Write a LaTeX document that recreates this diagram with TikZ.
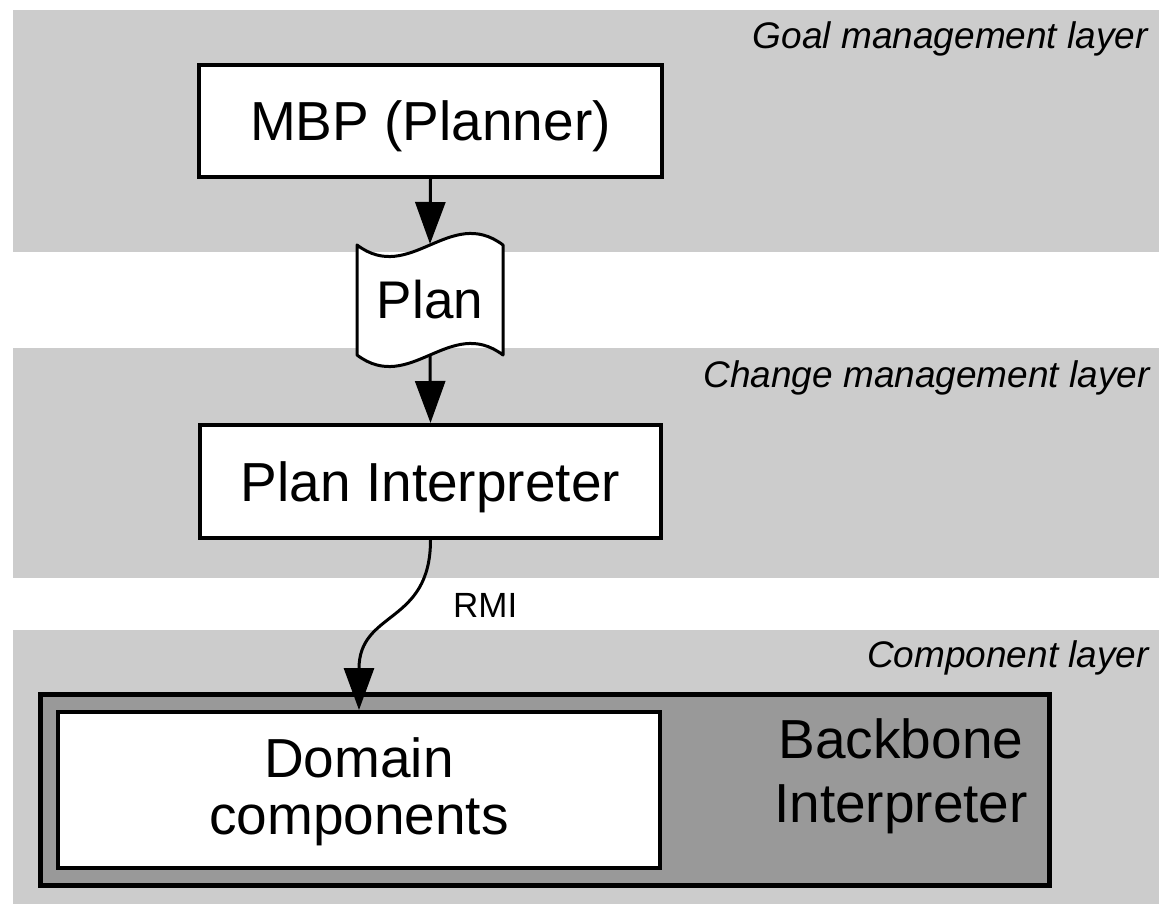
\documentclass[tikz,border=0pt]{standalone}
\usepackage{fontspec}
\setmainfont{Liberation Sans}
\usetikzlibrary{arrows.meta}
\definecolor{bandgray}{HTML}{CCCCCC}
\definecolor{bbgray}{HTML}{999999}
\begin{document}
\begin{tikzpicture}[x=1pt,y=-1pt,
  box/.style={draw=black,line width=4pt,fill=white,inner sep=0pt,
    font=\fontsize{55}{60}\selectfont,text height=39.4pt,text depth=0pt},
  txt/.style={inner sep=0pt,align=center},
  layerlabel/.style={font=\fontsize{37}{40}\selectfont\itshape,anchor=base east,inner sep=0pt},
  flow/.style={line width=3pt,-{Triangle[length=42pt,width=30pt]}}]
\useasboundingbox (0,0) rectangle (1159,904);

% layer bands
\fill[bandgray] (13,10) rectangle (1159,252);
\fill[bandgray] (13,348) rectangle (1159,578);
\fill[bandgray] (13,630) rectangle (1159,904);

\node[layerlabel] (goal) at (1148,49) {Goal management layer};
\node[layerlabel] (change) at (1150,387) {Change management layer};
\node[layerlabel] (comp) at (1149,667) {Component layer};

% planner
\node[box,minimum width=463pt,minimum height=112pt] (mbp) at (430.5,121) {MBP (Planner)};

% plan document (tape shape)
\draw[line width=3pt,fill=white,line join=round]
  (357,245) .. controls (410,285) and (450,205) .. (503,245)
  -- (503,355) .. controls (450,315) and (410,395) .. (357,355) -- cycle;
\node[inner sep=0pt,outer sep=0pt,minimum width=146pt,minimum height=110pt,
  font=\fontsize{53}{58}\selectfont,text height=38pt,text depth=0pt] (plan) at (430,299) {Plan};

% plan interpreter
\node[box,minimum width=461pt,minimum height=113pt] (pi) at (430.5,481.5) {Plan Interpreter};

% backbone with domain components
\node[draw=black,line width=5pt,fill=bbgray,inner sep=0pt,
  minimum width=1009pt,minimum height=191pt] (backbone) at (545,790) {};
\node[draw=black,line width=4pt,fill=white,inner sep=0pt,
  minimum width=602pt,minimum height=156pt] (domain) at (359,790) {};
\node[txt,font=\fontsize{55}{57}\selectfont] (domtext) at (359,792) {Domain\\components};
\node[txt,font=\fontsize{55}{64}\selectfont] (bbtext) at (901,776) {Backbone\\Interpreter};

% connectors
\draw[flow] (mbp.south) -- (plan.north);
\draw[flow] (plan.south) -- (pi.north);
\draw[flow] (pi.south) .. controls +(0,85) and +(0,-100) .. (domain.north);
\node[inner sep=0pt,anchor=base west,font=\fontsize{35}{40}\selectfont] (rmi) at (453,617) {RMI};
\end{tikzpicture}
\end{document}
